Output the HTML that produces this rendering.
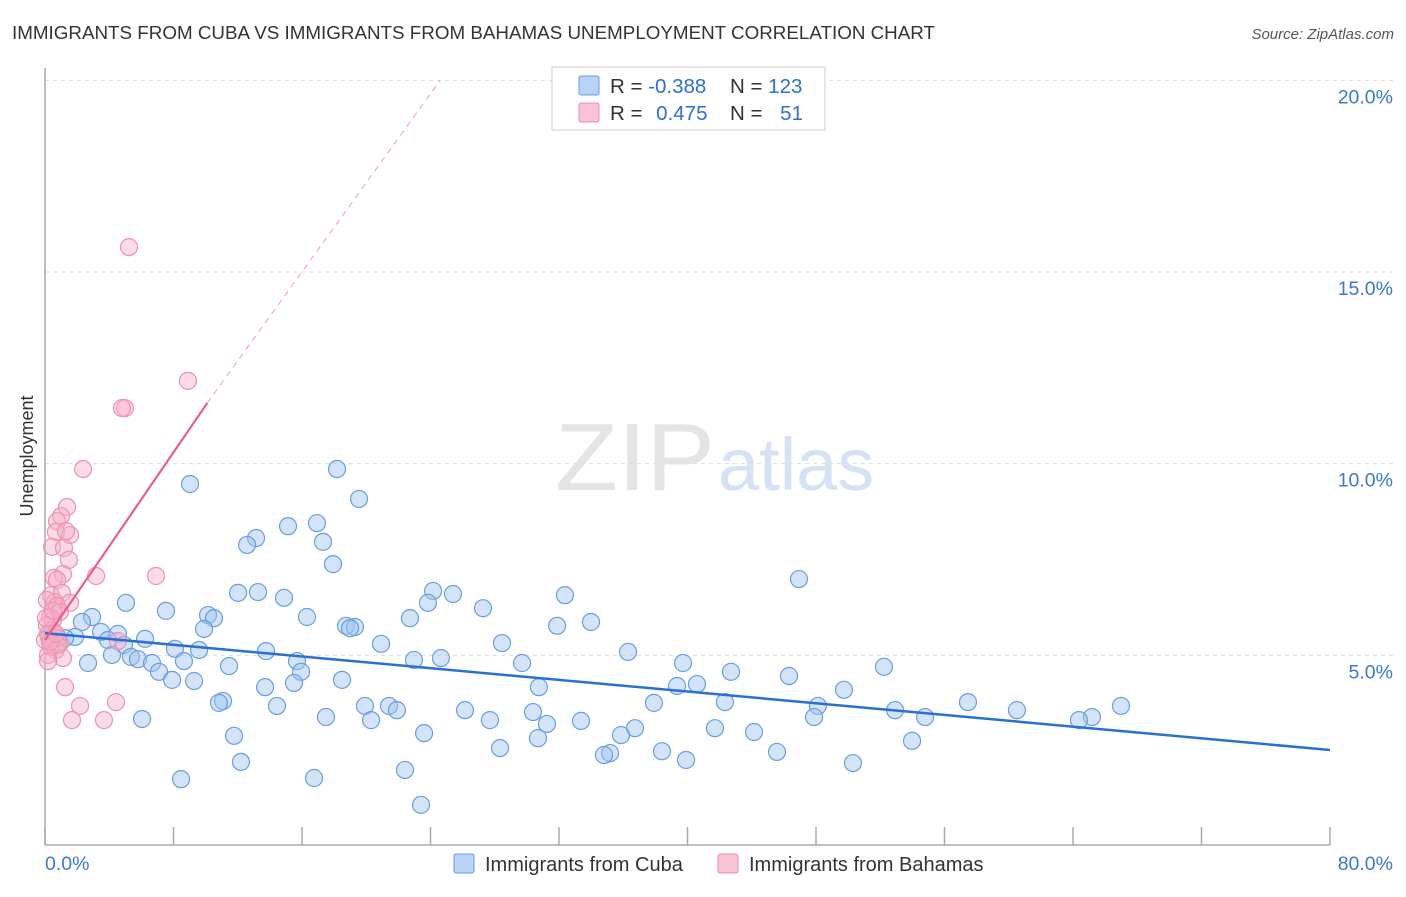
<!DOCTYPE html>
<html><head><meta charset="utf-8"><style>
body{margin:0;background:#fff;font-family:"Liberation Sans",sans-serif}
svg text{font-family:"Liberation Sans",sans-serif}
</style></head><body>
<svg id="c" width="1406" height="892" viewBox="0 0 1406 892" xmlns="http://www.w3.org/2000/svg">
<text x="12" y="39" font-size="18" fill="#333" textLength="923" lengthAdjust="spacingAndGlyphs">IMMIGRANTS FROM CUBA VS IMMIGRANTS FROM BAHAMAS UNEMPLOYMENT CORRELATION CHART</text>
<text x="1394" y="39" font-size="15" fill="#555" text-anchor="end" font-style="italic">Source: ZipAtlas.com</text>
<text x="555" y="490" font-size="96" fill="#e4e4e4" textLength="160" lengthAdjust="spacingAndGlyphs" font-family="Liberation Serif">ZIP</text>
<text x="718" y="490" font-size="74" fill="#d4e2f4">atlas</text>
<g id="grid"></g>
<line x1="45" y1="68" x2="45" y2="845" stroke="#aaa" stroke-width="1.5"/>
<line x1="45" y1="845" x2="1330" y2="845" stroke="#aaa" stroke-width="1.5"/>
<g id="xt"></g>
<text x="33" y="456" font-size="18" fill="#333" text-anchor="middle" transform="rotate(-90 33 456)">Unemployment</text>
<text x="45" y="870" font-size="19.5" fill="#3a78d6">0.0%</text>
<text x="1393" y="870" font-size="19.5" fill="#3a78d6" text-anchor="end">80.0%</text>
<g id="pts"></g>
<g id="trend"></g>
<g>
<rect x="552" y="67" width="273" height="63" fill="#fff" stroke="#ccc"/>
<rect x="579" y="76" width="20" height="19" fill="#b8d3f5" stroke="#6a9de0" rx="2"/>
<rect x="579" y="103" width="20" height="19" fill="#f8c4d3" stroke="#e890ab" rx="2"/>
<text x="610" y="93" font-size="20.5" fill="#333">R = <tspan fill="#2f6fd0">-0.388</tspan></text>
<text x="730" y="93" font-size="20.5" fill="#333">N = <tspan fill="#2f6fd0">123</tspan></text>
<text x="610" y="120" font-size="20.5" fill="#333">R = <tspan fill="#2f6fd0" dx="8">0.475</tspan></text>
<text x="730" y="120" font-size="20.5" fill="#333">N = <tspan fill="#2f6fd0" dx="12">51</tspan></text>
</g>
<g>
<rect x="454" y="854" width="20" height="19" fill="#b8d3f5" stroke="#6a9de0" rx="2"/>
<text x="485" y="871" font-size="20" fill="#333">Immigrants from Cuba</text>
<rect x="718" y="854" width="20" height="19" fill="#f8c4d3" stroke="#e890ab" rx="2"/>
<text x="749" y="871" font-size="20" fill="#333">Immigrants from Bahamas</text>
</g>
</svg>
<script>
const NS="http://www.w3.org/2000/svg";
const yTicks=[5,10,15,20];
const yTickLabels=["5.0%","10.0%","15.0%","20.0%"];
const xTicks=[0,8,16,24,32,40,48,56,64,72,80];
const cubaPx=[[190,484],[337,469],[359,499],[317,523],[288,526],[256,538],[247,545],[323,542],[333,564],[799,579],[433,591],[238,593],[258,592],[453,594],[565,595],[126,603],[284,598],[428,603],[483,608],[208,615],[166,611],[214,618],[307,617],[410,618],[92,617],[82,622],[591,622],[557,626],[204,629],[346,626],[355,627],[350,628],[101,632],[118,634],[145,639],[75,637],[65,638],[58,638],[49,637],[108,640],[124,645],[381,644],[502,643],[175,649],[199,650],[266,651],[628,652],[112,655],[131,657],[138,659],[297,661],[441,658],[414,660],[184,661],[88,663],[152,663],[522,663],[683,663],[884,667],[159,672],[229,666],[301,672],[731,672],[789,676],[172,680],[194,681],[342,680],[697,684],[265,687],[294,683],[677,686],[539,687],[844,690],[223,701],[219,703],[725,702],[968,702],[654,703],[818,706],[277,706],[365,706],[389,706],[397,710],[465,710],[1121,706],[533,712],[895,710],[1017,710],[1092,717],[1079,720],[326,717],[371,720],[490,720],[581,721],[814,717],[925,717],[142,719],[547,724],[635,728],[715,728],[234,736],[424,733],[754,732],[621,735],[538,738],[912,741],[500,748],[662,751],[777,752],[610,753],[604,755],[686,760],[241,762],[853,763],[405,770],[181,779],[314,778],[421,805]];
const bahamasPx=[[129,247],[188,381],[125,408],[122,408],[83,469],[67,507],[61,516],[57,521],[56,532],[70,535],[66,531],[52,547],[64,548],[69,560],[63,574],[96,576],[156,576],[54,578],[57,580],[51,595],[62,593],[55,602],[70,603],[47,600],[57,606],[60,612],[50,617],[53,620],[47,625],[52,630],[48,634],[55,638],[60,643],[51,647],[56,650],[48,655],[63,658],[48,661],[118,641],[58,645],[65,687],[80,706],[116,702],[72,720],[104,720],[45,640],[50,642],[56,634],[46,618],[53,611]];
const cubaX=cubaPx.map(p=>+((p[0]-45)/16.0625).toFixed(2));
const cubaY=cubaPx.map(p=>+((847-p[1])/38.333).toFixed(2));
const bahamasX=bahamasPx.map(p=>+((p[0]-45)/16.0625).toFixed(2));
const bahamasY=bahamasPx.map(p=>+((847-p[1])/38.333).toFixed(2));
const cubaTrend=[[0,5.58],[80,2.53]];
const bahamasTrend=[[0,5.4],[10.1,11.58],[24.6,20]];
const sx=v=>45+v*16.0625, sy=v=>847-v*38.333;
const g=id=>document.getElementById(id);
function mk(tag,attrs,parent){const e=document.createElementNS(NS,tag);for(const k in attrs)e.setAttribute(k,attrs[k]);parent.appendChild(e);return e;}
yTicks.forEach((t,i)=>{
 const l=mk('line',{x1:45,x2:1393,y1:sy(t),y2:sy(t),stroke:'#ddd','stroke-dasharray':'4,4'},g('grid'));
 
 
 const tx=mk('text',{x:1393,y:sy(t)+23,'font-size':19.5,fill:'#3a78d6','text-anchor':'end'},g('grid'));
 tx.textContent=yTickLabels[i];
 
 
});
xTicks.forEach(t=>{
 const l=mk('line',{x1:sx(t),x2:sx(t),y1:827,y2:845,stroke:'#aaa','stroke-width':1.5},g('xt'));
 
 
});
cubaX.forEach((x,i)=>{
 const c=mk('circle',{cx:sx(x),cy:sy(cubaY[i]),r:8.5,fill:'rgba(160,196,240,0.45)',stroke:'#6a9de0','stroke-width':1.2},g('pts'));
 
 
});
bahamasX.forEach((x,i)=>{
 const c=mk('circle',{cx:sx(x),cy:sy(bahamasY[i]),r:8.5,fill:'rgba(246,176,198,0.45)',stroke:'#ec93b0','stroke-width':1.2},g('pts'));
 
 
});
const bl=mk('line',{x1:sx(cubaTrend[0][0]),y1:sy(cubaTrend[0][1]),x2:sx(cubaTrend[1][0]),y2:sy(cubaTrend[1][1]),stroke:'#2a6fd6','stroke-width':2.5},g('trend'));


const pl=mk('line',{x1:sx(bahamasTrend[0][0]),y1:sy(bahamasTrend[0][1]),x2:sx(bahamasTrend[1][0]),y2:sy(bahamasTrend[1][1]),stroke:'#e8608a','stroke-width':2.2},g('trend'));


const pd=mk('line',{x1:sx(bahamasTrend[1][0]),y1:sy(bahamasTrend[1][1]),x2:sx(bahamasTrend[2][0]),y2:sy(bahamasTrend[2][1]),stroke:'#eaa0b8','stroke-width':1,'stroke-dasharray':'6,5'},g('trend'));


</script>
</body></html>
